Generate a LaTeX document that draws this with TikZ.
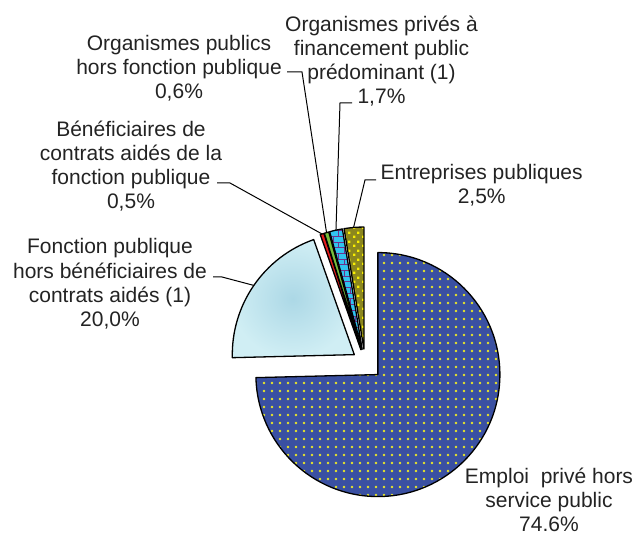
\documentclass[tikz,border=0pt]{standalone}
\usepackage{fontspec}
\setmainfont{Liberation Sans}
\usetikzlibrary{patterns,patterns.meta,calc}
\definecolor{empblue}{RGB}{58,80,162}
\definecolor{dotyellow}{RGB}{235,232,40}
\definecolor{fpin}{RGB}{172,216,230}
\definecolor{fpout}{RGB}{208,238,244}
\definecolor{benred}{RGB}{230,30,30}
\definecolor{orggreen}{RGB}{120,190,60}
\definecolor{privblue}{RGB}{50,195,240}
\definecolor{brickpurple}{RGB}{110,50,140}
\definecolor{entolive}{RGB}{140,135,30}
\definecolor{entyellow}{RGB}{250,240,0}
\definecolor{textgray}{RGB}{35,35,35}
\tikzdeclarepattern{
  name=ydots, type=uncolored,
  bounding box={(-4pt,-4pt) and (4pt,4pt)},
  tile size={(8pt,8pt)},
  code={\fill (0pt,0pt) circle (1.3pt);}
}
\tikzdeclarepattern{
  name=ysquares, type=uncolored,
  bounding box={(0pt,0pt) and (8.6pt,8.6pt)},
  tile size={(8.6pt,8.6pt)},
  code={\fill (0pt,0pt) rectangle (2.4pt,2.4pt); \fill (4.3pt,4.3pt) rectangle (6.7pt,6.7pt);}
}
\begin{document}
\begin{tikzpicture}[x=1pt,y=1pt,
  slicebd/.style={draw=black, line width=1.3pt, line join=round},
  leader/.style={draw=black, line width=1pt},
  lbl/.style={font=\fontsize{21}{24.3}\selectfont, text=textgray, align=center, inner sep=0pt, anchor=base}]
\useasboundingbox (0,0) rectangle (634,535);
\coordinate (C) at (365,173);
% apexes of the exploded slices
\coordinate (Aemp) at ($(C)+(-44.28:18pt)$);
\coordinate (Afp) at ($(C)+(145.44:13pt)$);
\coordinate (Aben) at ($(C)+(108.54:13pt)$);
\coordinate (Aorg) at ($(C)+(106.56:13pt)$);
\coordinate (Apriv) at ($(C)+(102.42:13pt)$);
\coordinate (Aent) at ($(C)+(94.86:13pt)$);
% mid points of the arcs (leader ends)
\coordinate (mfp) at ($(Afp)+(145.44:122pt)$);
\coordinate (mben) at ($(Aben)+(108.54:122pt)$);
\coordinate (morg) at ($(Aorg)+(106.56:122pt)$);
\coordinate (mpriv) at ($(Apriv)+(102.42:122pt)$);
\coordinate (ment) at ($(Aent)+(94.86:122pt)$);
% labels (anchored at the baseline of their last line)
\node[lbl] (lorg) at (179,436) {Organismes publics\\hors fonction publique\\0,6\%};
\node[lbl] (lben) at (131,326) {Bénéficiaires de\\contrats aidés de la\\fonction publique\\0,5\%};
\node[lbl] (lpriv) at (381.5,431) {Organismes privés à\\financement public\\prédominant (1)\\1,7\%};
\node[lbl] (lent) at (481.7,331) {Entreprises publiques\\2,5\%};
\node[lbl] (lfp) at (110,208.3) {Fonction publique\\hors bénéficiaires de\\contrats aidés (1)\\20,0\%};
\node[lbl] (lemp) at (549,3) {Emploi\ \ privé hors\\service public\\74.6\%};
% leader lines
\coordinate (sorg) at (287,463); \coordinate (korg) at (302,463);
\coordinate (sben) at (217,352); \coordinate (kben) at (230,352);
\coordinate (spriv) at (352,432); \coordinate (kpriv) at (340,432);
\coordinate (sent) at (376,355); \coordinate (kent) at (365,355);
\coordinate (sfp) at (213,258); \coordinate (kfp) at (222,258);
\draw[leader] (sorg) -- (korg) -- (morg);
\draw[leader] (sben) -- (kben) -- (mben);
\draw[leader] (spriv) -- (kpriv) -- (mpriv);
\draw[leader] (sent) -- (kent) -- (ment);
\draw[leader] (sfp) -- (kfp) -- (mfp);
% slices
\path[slicebd, preaction={fill=empblue}, pattern=ydots, pattern color=dotyellow]
  (Aemp) -- ++(90:122pt) arc[start angle=90, end angle=-178.56, radius=122pt] -- cycle;
\path[slicebd, preaction={inner color=fpin, outer color=fpout}]
  (Afp) -- ++(181.44:122pt) arc[start angle=181.44, end angle=109.44, radius=122pt] -- cycle;
\path[slicebd, fill=benred]
  (Aben) -- ++(109.44:122pt) arc[start angle=109.44, end angle=107.64, radius=122pt] -- cycle;
\path[slicebd, fill=orggreen]
  (Aorg) -- ++(107.64:122pt) arc[start angle=107.64, end angle=105.48, radius=122pt] -- cycle;
\path[slicebd, preaction={fill=privblue}, pattern=bricks, pattern color=brickpurple]
  (Apriv) -- ++(105.48:122pt) arc[start angle=105.48, end angle=99.36, radius=122pt] -- cycle;
\path[slicebd, preaction={fill=entolive}, pattern=ysquares, pattern color=entyellow]
  (Aent) -- ++(99.36:122pt) arc[start angle=99.36, end angle=90, radius=122pt] -- cycle;
\end{tikzpicture}
\end{document}
